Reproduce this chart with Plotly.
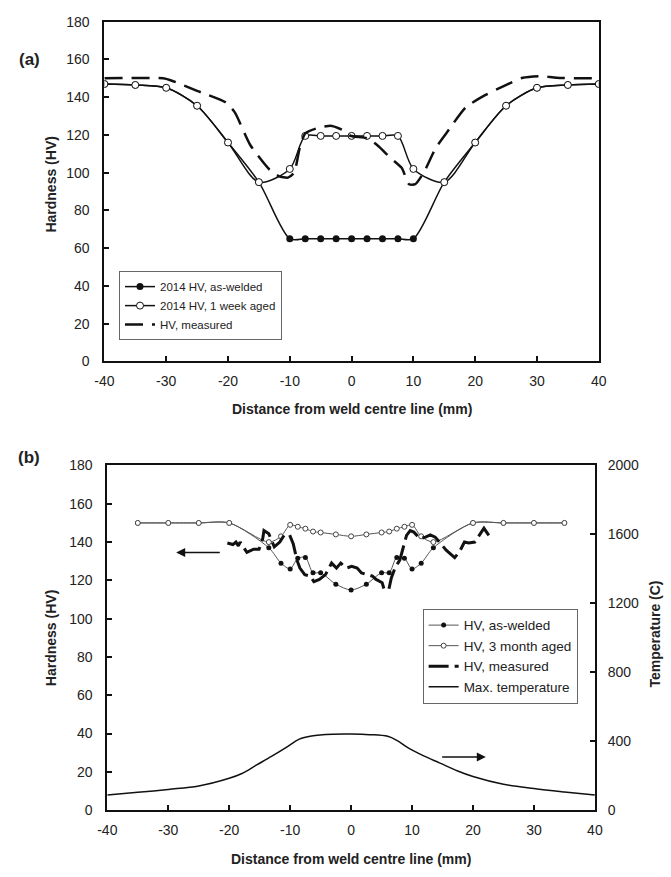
import plotly.graph_objects as go

# ---------------- Panel (a) data ----------------
x_a_model = [-40, -35, -30, -25, -20, -15, -10, -7.5, -5, -2.5, 0, 2.5, 5, 7.5, 10, 15, 20, 25, 30, 35, 40]
hv_a_welded = [147, 146.5, 145, 135.5, 116, 95, 65, 65, 65, 65, 65, 65, 65, 65, 65, 95, 116, 135.5, 145, 146.5, 147]
hv_a_aged = [147, 146.5, 145, 135.5, 116, 95, 102, 119.5, 119.5, 119.5, 119.5, 119.5, 119.5, 119.5, 102, 95, 116, 135.5, 145, 146.5, 147]

x_a_meas = [-40, -30.5, -29.3, -25, -20.4, -18.9, -16.4, -13.3, -11.8, -10.3, -9.3, -8.4, -7.5, -5.4, -3.2, -1.4, -0.2,
            2.6, 4.4, 6.3, 8.1, 9.3, 10.3, 11.8, 13.6, 15.5, 18.5, 21.6, 24.7, 27.7, 30.8, 33.2, 40]
hv_a_meas = [150, 150, 149, 143.4, 137.3, 132, 114.7, 101.7, 98.2, 97.4, 100, 113, 120.8, 123.8, 124.8, 122.5, 119.6,
             118.2, 113.9, 107.8, 102.6, 93.9, 93.9, 100.8, 113, 121.7, 134.7, 141.1, 146, 150.3, 151.2, 150.3, 150]

# ---------------- Panel (b) data ----------------
x_b_model = [-35, -30, -25, -20, -13.5, -11.5, -10, -8.75, -7.5, -6.25, -5, -2.5, 0, 2.5, 5, 6.25, 7.5, 8.75, 10, 11.5, 13.5, 20, 25, 30, 35]
hv_b_welded = [150, 150, 150, 150, 137, 129, 126, 131.5, 132, 124, 124, 118, 115, 118, 124, 124, 132, 131.5, 126, 129, 137, 150, 150, 150, 150]
hv_b_aged = [150, 150, 150, 150, 140, 143, 149, 148, 147, 145.5, 145, 144, 143, 144, 145, 145.5, 147, 148, 149, 143, 140, 150, 150, 150, 150]

x_b_meas = [-20.3, -19.4, -18.9, -18.5, -18.2, -17.1, -16, -15.1, -14.5, -14.3, -13.5, -12.6, -11.7, -11, -10.1, -9.5,
            -9.2, -8.9, -8.4, -7.6, -6.7, -6.1, -5.2, -4.2, -3.2, -2.4, -1.7, -0.8, 0.1, 1.0, 1.7, 2.6, 3.5, 4.1, 5.1,
            5.4, 6.2, 6.6, 7.2, 8.0, 8.7, 9.1, 9.7, 10.3, 11.3, 12.2, 13, 13.8, 14.7, 15.6, 17, 17.8, 18.6, 19.3, 20.3,
            21.1, 21.8, 22.6]
hv_b_meas = [139.5, 138.7, 140, 138, 140, 134.6, 136.3, 136.3, 141.8, 146, 144.3, 137.5, 140, 143.5, 143.8, 139.2,
             135, 130.7, 126.4, 123, 122.2, 119.3, 120.5, 123, 129, 126.4, 129, 126.4, 127.3, 126.4, 123.9, 123, 122.2,
             120.5, 118.8, 115.4, 115.4, 121.3, 126.4, 130.7, 138.4, 143.5, 146, 145.2, 141.8, 142.6, 143.8, 142.6,
             139.2, 135.8, 131.9, 135, 140, 139.5, 140, 143.8, 147.2, 143.5]

x_temp = [-40, -35, -30, -25, -20, -18, -15.5, -13, -10.5, -8.5, -6.5, -3, 0, 3, 6, 7.5, 9.5, 12, 14.5, 17.5, 20, 25, 30, 35, 40]
temp_max = [87, 103, 120, 140, 185, 211, 262, 313, 367, 412, 430, 440, 441, 438, 428, 405, 358, 313, 274, 227, 195, 150, 125, 105, 87]

# arrows: [tail_x, head_x, y]
arrow_left = [-21.3, -28.7, 134.6]
arrow_right = [14.7, 22.1, 27.7]

x_ticks = [-40, -30, -20, -10, 0, 10, 20, 30, 40]
x_ticktext = ["-40", "-30", "-20", "-10", "0", "10", "20", "30", "40"]
hv_ticks = [0, 20, 40, 60, 80, 100, 120, 140, 160, 180]
temp_ticks = [0, 400, 800, 1200, 1600, 2000]

FONT = "Liberation Sans, Arial, sans-serif"
W, H = 671, 877

def px_x(p):
    return p / W

def px_y(p):
    return 1 - p / H

fig = go.Figure()

# Panel (a)
fig.add_trace(go.Scatter(x=x_a_model, y=hv_a_welded, name="2014 HV, as-welded", mode="lines+markers",
                         line=dict(color="#111", width=1.5, shape="spline", smoothing=0.8),
                         marker=dict(symbol="circle", size=7, color="#111"),
                         xaxis="x", yaxis="y", legend="legend"))
fig.add_trace(go.Scatter(x=x_a_model, y=hv_a_aged, name="2014 HV, 1 week aged", mode="lines+markers",
                         line=dict(color="#111", width=1.5, shape="spline", smoothing=0.8),
                         marker=dict(symbol="circle", size=7, color="white", line=dict(color="#111", width=1)),
                         xaxis="x", yaxis="y", legend="legend"))
fig.add_trace(go.Scatter(x=x_a_meas, y=hv_a_meas, name="HV, measured", mode="lines",
                         line=dict(color="#111", width=2.5, dash="18px,9px", shape="spline", smoothing=0.6),
                         xaxis="x", yaxis="y", legend="legend"))

# Panel (b)
fig.add_trace(go.Scatter(x=x_b_model, y=hv_b_welded, name="HV, as-welded", mode="lines+markers",
                         line=dict(color="#555", width=1, shape="spline", smoothing=0.8),
                         marker=dict(symbol="circle", size=5, color="#111"),
                         xaxis="x2", yaxis="y2", legend="legend2"))
fig.add_trace(go.Scatter(x=x_b_model, y=hv_b_aged, name="HV, 3 month aged", mode="lines+markers",
                         line=dict(color="#555", width=1, shape="spline", smoothing=0.8),
                         marker=dict(symbol="circle", size=5, color="white", line=dict(color="#444", width=1)),
                         xaxis="x2", yaxis="y2", legend="legend2"))
fig.add_trace(go.Scatter(x=x_b_meas, y=hv_b_meas, name="HV, measured", mode="lines",
                         line=dict(color="#111", width=3, dash="20px,6px"),
                         xaxis="x2", yaxis="y2", legend="legend2"))
fig.add_trace(go.Scatter(x=x_temp, y=temp_max, name="Max. temperature", mode="lines",
                         line=dict(color="#111", width=1.5, shape="spline", smoothing=1),
                         xaxis="x2", yaxis="y3", legend="legend2"))

axis_common = dict(showline=True, linewidth=2, linecolor="#111", mirror=True, ticks="inside", ticklen=5,
                   tickwidth=1.5, tickcolor="#111", showgrid=False, zeroline=False,
                   tickfont=dict(family=FONT, size=14, color="#222"))

fig.update_layout(
    width=W, height=H, margin=dict(l=0, r=0, t=0, b=0),
    paper_bgcolor="white", plot_bgcolor="white",
    font=dict(family=FONT, color="#222"),
    xaxis=dict(domain=[px_x(97), px_x(605)], range=[-40, 40], tickvals=x_ticks, ticktext=x_ticktext,
               anchor="y", ticklabelstandoff=6, **axis_common),
    yaxis=dict(domain=[px_y(360), px_y(14)], range=[0, 180], tickvals=hv_ticks, anchor="x",
               ticklabelstandoff=10, **axis_common),
    xaxis2=dict(domain=[px_x(100), px_x(601)], range=[-40, 40], tickvals=x_ticks, ticktext=x_ticktext,
                anchor="y2", ticklabelstandoff=6, **axis_common),
    yaxis2=dict(domain=[px_y(817), px_y(466)], range=[0, 180], tickvals=hv_ticks, anchor="x2",
                ticklabelstandoff=10, **axis_common),
    yaxis3=dict(overlaying="y2", side="right", range=[0, 2000], tickvals=temp_ticks, anchor="x2",
                showline=True, linewidth=2, linecolor="#111", ticks="inside", ticklen=5, tickwidth=1.5,
                tickcolor="#111", showgrid=False, zeroline=False, ticklabelstandoff=8,
                tickfont=dict(family=FONT, size=14, color="#222")),
    legend=dict(x=px_x(112), y=px_y(268), xanchor="left", yanchor="top", bgcolor="white",
                bordercolor="#666", borderwidth=1, font=dict(family=FONT, size=11.5, color="#222"),
                tracegroupgap=0, itemwidth=30),
    legend2=dict(x=px_x(424), y=px_y(612), xanchor="left", yanchor="top", bgcolor="white",
                 bordercolor="#666", borderwidth=1, font=dict(family=FONT, size=13.5, color="#222"),
                 tracegroupgap=0, itemwidth=30),
)

annots = [
    dict(text="<b>(a)</b>", x=px_x(20), y=px_y(52), size=17),
    dict(text="<b>(b)</b>", x=px_x(20), y=px_y(458), size=17),
    dict(text="<b>Distance from weld centre line (mm)</b>", x=px_x(351), y=px_y(408), size=14),
    dict(text="<b>Distance from weld centre line (mm)</b>", x=px_x(350), y=px_y(867), size=14),
    dict(text="<b>Hardness (HV)</b>", x=px_x(42), y=px_y(180), size=14, angle=-90),
    dict(text="<b>Hardness (HV)</b>", x=px_x(42), y=px_y(642), size=14, angle=-90),
    dict(text="<b>Temperature (C)</b>", x=px_x(663), y=px_y(638), size=14, angle=-90),
]
for a in annots:
    fig.add_annotation(text=a["text"], x=a["x"], y=a["y"], xref="paper", yref="paper", showarrow=False,
                       xanchor="center", yanchor="middle", textangle=a.get("angle", 0),
                       font=dict(family=FONT, size=a["size"], color="#222"))

fig.add_annotation(x=arrow_left[1], y=arrow_left[2], ax=arrow_left[0], ay=arrow_left[2],
                   xref="x2", yref="y2", axref="x2", ayref="y2", text="", showarrow=True,
                   arrowhead=2, arrowsize=1.2, arrowwidth=1.5, arrowcolor="#111")
fig.add_annotation(x=arrow_right[1], y=arrow_right[2], ax=arrow_right[0], ay=arrow_right[2],
                   xref="x2", yref="y2", axref="x2", ayref="y2", text="", showarrow=True,
                   arrowhead=2, arrowsize=1.2, arrowwidth=1.5, arrowcolor="#111")

fig.write_html("out.html")
